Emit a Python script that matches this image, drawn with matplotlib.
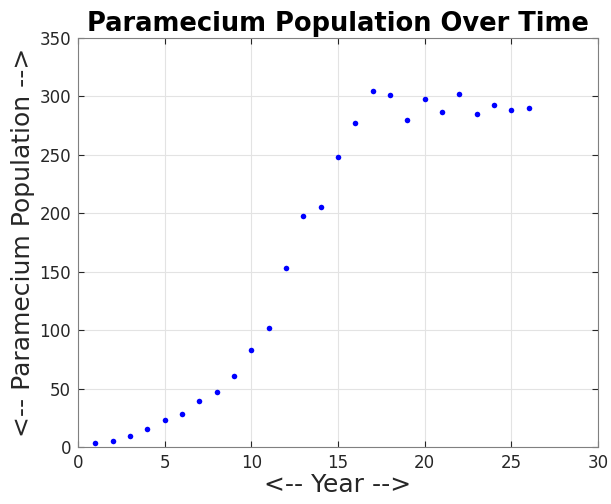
import matplotlib
matplotlib.use("Agg")
import matplotlib.pyplot as plt

years = list(range(1, 27))
population = [3, 5, 9, 15, 23, 28, 39, 47, 61, 83, 102, 153, 198, 205, 248,
              277, 305, 301, 280, 298, 287, 302, 285, 293, 288, 290]

fig = plt.figure(figsize=(6.11, 5.04), dpi=100)
ax = fig.add_axes([78 / 611, 1 - 447 / 504, 520 / 611, 409 / 504])

ax.plot(years, population, 'o', color='#0000ff', markersize=4, markeredgewidth=0)

ax.set_xlim(0, 30)
ax.set_ylim(0, 350)
ax.set_xticks(range(0, 31, 5))
ax.set_yticks(range(0, 351, 50))
ax.grid(True, color='#e3e3e3', linewidth=0.8)
ax.set_axisbelow(True)
ax.tick_params(direction='in', length=4, labelsize=12, colors='#262626',
               top=True, right=True, pad=5)
for s in ax.spines.values():
    s.set_color('#808080')
    s.set_linewidth(0.8)

ax.set_title('Paramecium Population Over Time', fontsize=18.5, fontweight='bold', pad=5)
ax.set_xlabel('<-- Year -->', fontsize=18, color='#262626', labelpad=1)
ax.set_ylabel('<-- Paramecium Population -->', fontsize=18, color='#262626', labelpad=3)

fig.savefig('out.png', dpi=100)
